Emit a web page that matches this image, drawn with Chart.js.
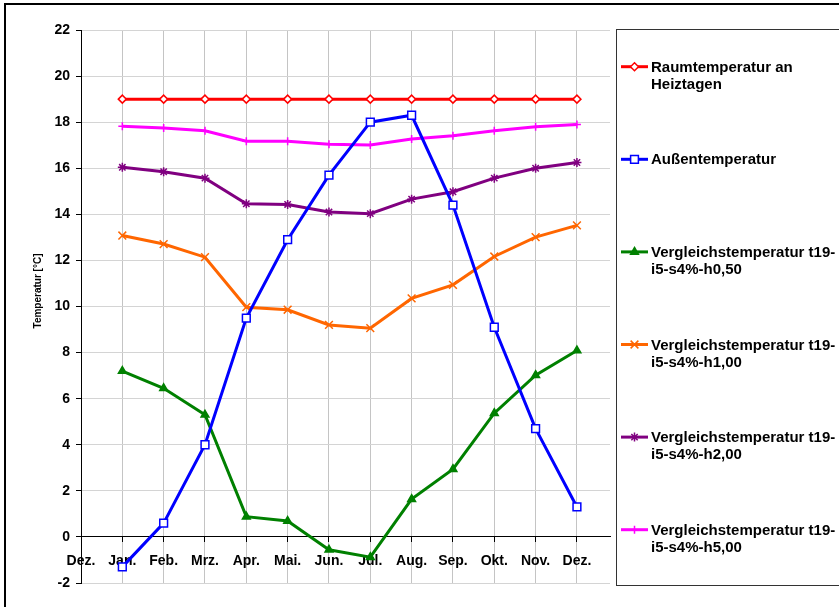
<!DOCTYPE html>
<html>
<head>
<meta charset="utf-8">
<script src="https://cdn.jsdelivr.net/npm/chart.js@4/dist/chart.umd.min.js"></script>
<style>
  body { margin: 0; background: #fff; }
  canvas { display: block; }
</style>
</head>
<body>
<canvas id="temps" width="839" height="607"></canvas>
<script>
// x axis labels (position 0 is the empty "Dez." at the y axis)
const monthLabels = ["Dez.", "Jan.", "Feb.", "Mrz.", "Apr.", "Mai.", "Jun.",
                     "Jul.", "Aug.", "Sep.", "Okt.", "Nov.", "Dez."];
const yTicks = [-2, 0, 2, 4, 6, 8, 10, 12, 14, 16, 18, 20, 22];

// series values Jan..Dez
const raumTemp   = [19, 19, 19, 19, 19, 19, 19, 19, 19, 19, 19, 19];
const aussenTemp = [-1.3, 0.6, 4.0, 9.5, 12.9, 15.7, 18.0, 18.3, 14.4, 9.1, 4.7, 1.3];
const vglH050    = [7.2, 6.45, 5.3, 0.88, 0.69, -0.56, -0.88, 1.64, 2.94, 5.37, 7.02, 8.09];
const vglH100    = [13.08, 12.71, 12.14, 9.97, 9.86, 9.2, 9.06, 10.35, 10.94, 12.17, 13.01, 13.52];
const vglH200    = [16.04, 15.85, 15.57, 14.46, 14.43, 14.1, 14.03, 14.66, 14.98, 15.57, 16.0, 16.25];
const vglH500    = [17.82, 17.75, 17.63, 17.17, 17.17, 17.04, 17.01, 17.27, 17.41, 17.63, 17.8, 17.9];

const FONT = '"Liberation Sans", Arial, sans-serif';

// months sit at x = 1..12
function toPoints(values) {
    return values.map((v, i) => ({ x: i + 1, y: v }));
}

function series(label, values, color, style, radius, fill) {
    return {
        label: label,
        data: toPoints(values),
        borderColor: color,
        borderWidth: 3,
        pointStyle: style,
        pointRadius: radius,
        pointBorderColor: color,
        pointBackgroundColor: fill,
        pointBorderWidth: 1.5,
        tension: 0
    };
}

// legend box + outer frame + y title, drawn by hand
const excelLegend = {
    id: 'excelLegend',
    beforeDraw(chart) {
        const ctx = chart.ctx;
        ctx.save();
        ctx.fillStyle = '#fff';
        ctx.fillRect(0, 0, chart.width, chart.height);
        ctx.strokeStyle = '#000';
        ctx.lineWidth = 2;
        ctx.strokeRect(5, 4, 1000, 1000);
        ctx.restore();
    },
    afterDraw(chart) {
        const ctx = chart.ctx;
        ctx.save();

        // y axis title
        ctx.translate(38.5, 291);
        ctx.rotate(-Math.PI / 2);
        ctx.font = 'bold 10px ' + FONT;
        ctx.fillStyle = '#000';
        ctx.textAlign = 'center';
        ctx.textBaseline = 'middle';
        ctx.fillText('Temperatur [°C]', 0, 0);
        ctx.setTransform(1, 0, 0, 1, 0, 0);

        // legend frame
        ctx.strokeStyle = '#333';
        ctx.lineWidth = 1;
        ctx.strokeRect(616.5, 29.5, 400, 556);

        ctx.font = 'bold 15px ' + FONT;
        ctx.textAlign = 'left';
        ctx.textBaseline = 'middle';

        chart.data.datasets.forEach((ds, i) => {
            const y = 66.7 + i * 92.6;
            ctx.strokeStyle = ds.borderColor;
            ctx.lineWidth = 3;
            ctx.beginPath();
            ctx.moveTo(621, y);
            ctx.lineTo(648, y);
            ctx.stroke();

            ctx.fillStyle = ds.pointBackgroundColor;
            ctx.strokeStyle = ds.pointBorderColor;
            ctx.lineWidth = ds.pointBorderWidth;
            Chart.helpers.drawPoint(ctx, {
                pointStyle: ds.pointStyle,
                radius: ds.pointRadius,
                borderWidth: ds.pointBorderWidth,
                rotation: 0
            }, 634.5, y);

            ctx.fillStyle = '#000';
            wrapText(ctx, ds.label, 190).forEach((line, k) => {
                ctx.fillText(line, 651, y + 1 + k * 17);
            });
        });
        ctx.restore();
    }
};

function wrapText(ctx, text, maxWidth) {
    const parts = text.match(/[^ -]+[ -]?/g);
    const lines = [];
    let cur = '';
    parts.forEach(p => {
        if (cur && ctx.measureText((cur + p).trimEnd()).width > maxWidth) {
            lines.push(cur.trimEnd());
            cur = p;
        } else {
            cur += p;
        }
    });
    if (cur) lines.push(cur.trimEnd());
    return lines;
}

const chart = new Chart(document.getElementById('temps'), {
    type: 'line',
    data: {
        datasets: [
            series('Raumtemperatur an Heiztagen', raumTemp, '#FF0000', 'rectRot', 4, '#FFFFFF'),
            series('Außentemperatur', aussenTemp, '#0000FF', 'rect', 5.5, '#FFFFFF'),
            series('Vergleichstemperatur t19-i5-s4%-h0,50', vglH050, '#008000', 'triangle', 4.5, '#008000'),
            series('Vergleichstemperatur t19-i5-s4%-h1,00', vglH100, '#FF6600', 'crossRot', 5.5, '#FF6600'),
            series('Vergleichstemperatur t19-i5-s4%-h2,00', vglH200, '#800080', 'star', 4.5, '#800080'),
            series('Vergleichstemperatur t19-i5-s4%-h5,00', vglH500, '#FF00FF', 'cross', 4, '#FF00FF')
        ]
    },
    options: {
        responsive: false,
        animation: false,
        devicePixelRatio: 1,
        layout: { padding: { top: 30, bottom: 24, left: 0, right: 229 } },
        plugins: {
            legend: { display: false },
            tooltip: { enabled: false }
        },
        scales: {
            x: {
                type: 'linear',
                position: { y: 0 },
                min: 0,
                max: 12.8,
                afterBuildTicks(scale) {
                    scale.ticks = monthLabels.map((m, i) => ({ value: i }));
                },
                ticks: {
                    autoSkip: false,
                    maxRotation: 0,
                    padding: 11,
                    color: '#000',
                    font: { family: FONT, size: 14, weight: 'bold' },
                    callback: v => monthLabels[v]
                },
                grid: { color: '#c4c4c4', tickColor: '#000', tickLength: 5 },
                border: { color: '#000', width: 1 }
            },
            y: {
                min: -2,
                max: 22,
                afterBuildTicks(scale) {
                    scale.ticks = yTicks.map(v => ({ value: v }));
                },
                afterFit(scale) { scale.width = 81; },
                ticks: {
                    padding: 6,
                    color: '#000',
                    font: { family: FONT, size: 14, weight: 'bold' }
                },
                grid: { color: '#d4d4d4', tickColor: '#000', tickLength: 5 },
                border: { color: '#000', width: 1 }
            }
        }
    },
    plugins: [excelLegend]
});
</script>
</body>
</html>
